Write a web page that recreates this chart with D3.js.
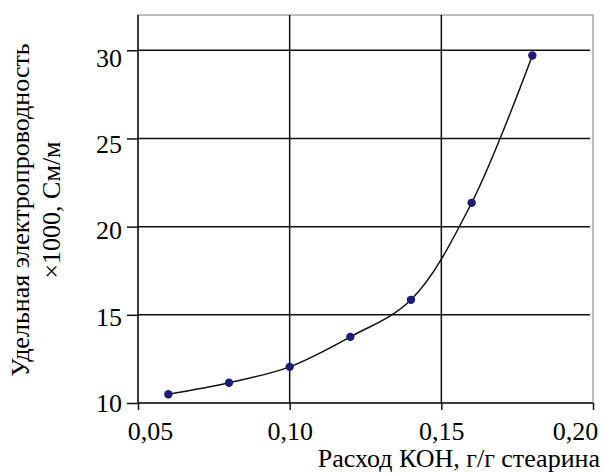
<!DOCTYPE html>
<html>
<head>
<meta charset="utf-8">
<script src="https://cdn.jsdelivr.net/npm/d3@7"></script>
</head>
<body style="margin:0;background:#fff">
<svg width="603" height="474"></svg>
<script>
// data
const koh = [0.06, 0.08, 0.10, 0.12, 0.14, 0.16, 0.18];
const conductivity = [10.5, 11.15, 12.05, 13.75, 15.85, 21.35, 29.7];
const xTicks = [0.05, 0.10, 0.15, 0.20];
const yTicks = [10, 15, 20, 25, 30];
const yTitle = ['Удельная электропроводность', '×1000, См/м'];
const xTitle = 'Расход КОН, г/г стеарина';

const FONT = 'Liberation Serif';
const svg = d3.select('svg');
const plotL = 138, plotR = 593, plotT = 15, plotB = 403;

const x = d3.scaleLinear().domain([0.05, 0.20]).range([plotL, plotR]);
const y = d3.scaleLinear().domain([10, 32]).range([plotB, plotT]);
const fmt = d => d.toFixed(2).replace('.', ',');

// frame (gray top/right)
svg.append('rect')
    .attr('x', plotL).attr('y', plotT)
    .attr('width', plotR - plotL).attr('height', plotB - plotT)
    .attr('fill', 'none')
    .attr('stroke', '#a6a6a6')
    .attr('stroke-width', 1.5);

// grid
svg.append('g')
    .selectAll('line')
    .data(yTicks.slice(1))
    .join('line')
    .attr('x1', plotL).attr('x2', plotR - 3)
    .attr('y1', d => y(d)).attr('y2', d => y(d))
    .attr('stroke', '#111').attr('stroke-width', 1.5);

svg.append('g')
    .selectAll('line')
    .data(xTicks.slice(1, -1))
    .join('line')
    .attr('x1', d => x(d)).attr('x2', d => x(d))
    .attr('y1', plotT).attr('y2', plotB)
    .attr('stroke', '#111').attr('stroke-width', 1.5);

// axes
const gx = svg.append('g')
    .attr('transform', `translate(0,${plotB})`)
    .call(d3.axisBottom(x).tickValues(xTicks).tickFormat(fmt).tickSizeInner(7).tickSizeOuter(0).tickPadding(12));
const gy = svg.append('g')
    .attr('transform', `translate(${plotL},0)`)
    .call(d3.axisLeft(y).tickValues(yTicks).tickSizeInner(11).tickSizeOuter(0).tickPadding(5));

[gx, gy].forEach(g => {
  g.attr('font-family', FONT).attr('font-size', 26);
  g.select('.domain').attr('stroke', '#111').attr('stroke-width', 1.5);
  g.selectAll('.tick line').attr('stroke', '#111').attr('stroke-width', 1.5);
  g.selectAll('.tick text').attr('fill', '#000');
});
gy.select('.domain').attr('d', `M0,${plotT}V${plotB}`);
gx.select('.domain').attr('d', `M${plotL},0H${plotR}`);

// edge labels kept inside, like the original
gx.selectAll('.tick text')
    .attr('dx', (d, i) => i === 0 ? 12 : (i === xTicks.length - 1 ? -18 : 0));
gy.selectAll('.tick text')
    .attr('dy', d => (0.32 + (d - 10) * 0.015) + 'em');

// curve
const line = d3.line()
    .x((d, i) => x(koh[i]))
    .y(d => y(d))
    .curve(d3.curveCatmullRom.alpha(0.5));

svg.append('path')
    .attr('d', line(conductivity))
    .attr('fill', 'none')
    .attr('stroke', '#111')
    .attr('stroke-width', 1.5);

svg.append('g')
    .selectAll('circle')
    .data(conductivity)
    .join('circle')
    .attr('cx', (d, i) => x(koh[i]))
    .attr('cy', d => y(d))
    .attr('r', 4.2)
    .attr('fill', '#1c1c7a');

// titles
svg.append('text')
    .attr('x', 600).attr('y', 467)
    .attr('text-anchor', 'end')
    .attr('font-family', FONT)
    .attr('font-size', 26)
    .text(xTitle);

const yt = svg.append('text')
    .attr('transform', 'translate(29,210) rotate(-90)')
    .attr('text-anchor', 'middle')
    .attr('font-family', FONT)
    .attr('font-size', 26);
yt.append('tspan').attr('x', 0).attr('y', 0).text(yTitle[0]);
yt.append('tspan').attr('x', 0).attr('y', 31).text(yTitle[1]);
</script>
</body>
</html>
